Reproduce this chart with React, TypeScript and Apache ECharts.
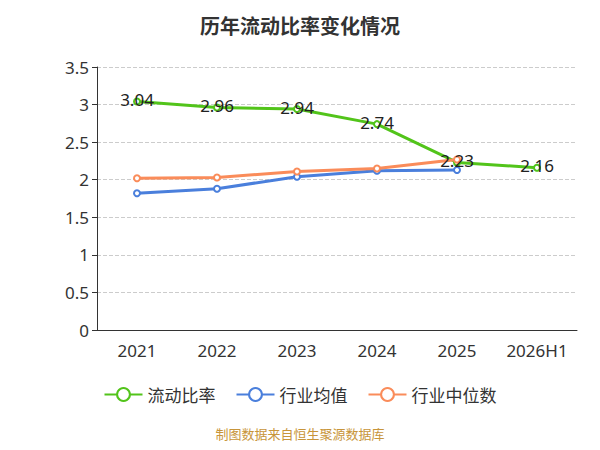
import React, { useEffect, useRef } from 'react';
import * as echarts from 'echarts';

const categories = ['2021', '2022', '2023', '2024', '2025', '2026H1'];
const currentRatio = [3.04, 2.96, 2.94, 2.74, 2.23, 2.16];
const industryAvg = [1.82, 1.88, 2.04, 2.12, 2.13, null];
const industryMedian = [2.02, 2.03, 2.11, 2.15, 2.27, null];

const App: React.FC = () => {
  const chartRef = useRef<HTMLDivElement>(null);

  useEffect(() => {
    if (!chartRef.current) return;
    const chart = echarts.init(chartRef.current, null, { renderer: 'svg' });
    const font = 'Noto Sans, sans-serif';
    chart.setOption({
      animation: false,
      textStyle: { fontFamily: font },
      title: {
        text: '历年流动比率变化情况',
        left: 'center',
        top: 2,
        textStyle: { fontSize: 20, fontWeight: 'bold', color: '#333', fontFamily: 'Noto Sans CJK SC' },
      },
      grid: { left: 89, right: 15, top: 59, bottom: 112 },
      legend: {
        bottom: 34,
        itemWidth: 38,
        itemHeight: 16,
        itemGap: 20,
        textStyle: { fontSize: 17, color: '#333', fontFamily: 'Noto Sans CJK SC' },
        data: ['流动比率', '行业均值', '行业中位数'],
      },
      graphic: [{
        type: 'text',
        left: 'center',
        bottom: 2,
        style: { text: '制图数据来自恒生聚源数据库', fill: '#c8953a', fontSize: 13, fontFamily: 'Noto Sans CJK SC' },
      }],
      xAxis: {
        type: 'category',
        data: categories,
        axisLine: { lineStyle: { color: '#333' } },
        axisTick: { lineStyle: { color: '#333' } },
        axisLabel: { fontSize: 17, color: '#333', margin: 12, interval: 0 },
      },
      yAxis: {
        type: 'value',
        min: 0,
        max: 3.5,
        interval: 0.5,
        axisLine: { show: true, lineStyle: { color: '#333' } },
        axisTick: { show: true, lineStyle: { color: '#333' } },
        axisLabel: { fontSize: 17, color: '#333' },
        splitLine: { lineStyle: { type: 'dashed', color: '#ccc' } },
      },
      series: [
        {
          name: '流动比率',
          type: 'line',
          data: currentRatio,
          color: '#52c41a',
          symbol: 'emptyCircle',
          symbolSize: 6,
          lineStyle: { width: 3 },
          label: { show: true, position: 'inside', offset: [0, -2], fontSize: 17, color: '#222' },
          z: 3,
        },
        {
          name: '行业均值',
          type: 'line',
          data: industryAvg,
          color: '#4a7fdc',
          symbol: 'emptyCircle',
          symbolSize: 6,
          lineStyle: { width: 3 },
        },
        {
          name: '行业中位数',
          type: 'line',
          data: industryMedian,
          color: '#fa8c5a',
          symbol: 'emptyCircle',
          symbolSize: 6,
          lineStyle: { width: 3 },
        },
      ],
    });
    return () => chart.dispose();
  }, []);

  return <div ref={chartRef} style={{ width: '584px', height: '434px' }} />;
};

export default App;
